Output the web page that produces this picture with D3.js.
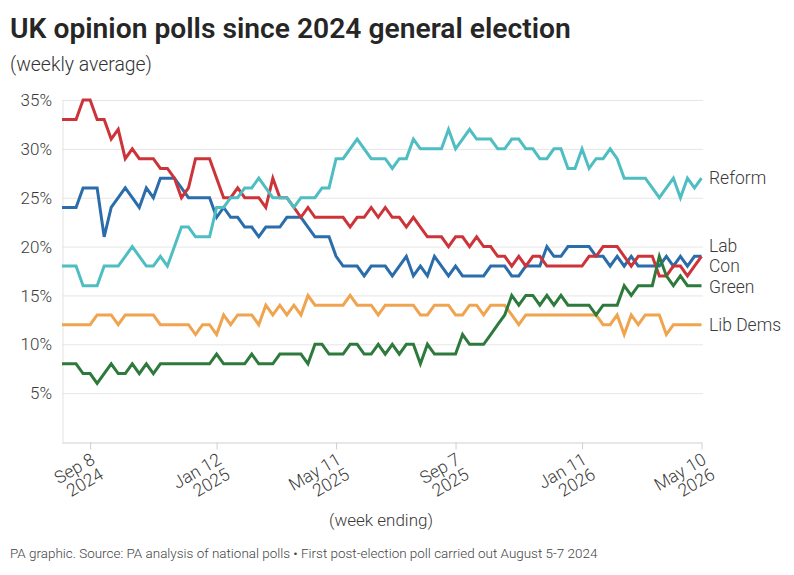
<!DOCTYPE html>
<html><head><meta charset="utf-8">
<script src="https://cdn.jsdelivr.net/npm/d3@7"></script>
<style>body{margin:0;background:#fff} svg{display:block;font-family:Roboto,"Liberation Sans",sans-serif}</style>
</head><body><svg id="chart" width="794" height="575"></svg>
<script>
// ---------- data ----------
const firstWeek = "2024-08-11";
const lastWeek  = "2026-05-10";
const xTickDates  = ["2024-09-08","2025-01-12","2025-05-11","2025-09-07","2026-01-11","2026-05-10"];
const xTickLabels = [["Sep 8","2024"],["Jan 12","2025"],["May 11","2025"],["Sep 7","2025"],["Jan 11","2026"],["May 10","2026"]];
const yTicks = [5,10,15,20,25,30,35];
const partyNames = ["Lab","Con","Reform","Lib Dems","Green"];

const con = [33,33,33,35,35,33,33,31,32,29, 30,29,29,29,28,28,27,25,26,29,
  29,29,27,25,25,26,25,25,25,24, 27,25,25,24,23,24,23,23,23,23,
  23,22,23,23,24,23,24,23,23,22, 23,22,21,21,21,20,21,21,20,21,
  20,20,19,19,18,19,18,19,19,18, 18,18,18,18,18,19,19,20,20,20,
  19,18,19,19,19,17,17,18,18,17, 18,19];
const lab = [24,24,24,26,26,26,21,24,25,26, 25,24,26,25,27,27,27,26,25,25,
  25,25,23,24,23,23,22,22,21,22, 22,22,23,23,23,22,21,21,21,19,
  18,18,18,17,18,18,18,17,18,19, 17,18,17,19,18,17,18,17,17,17,
  17,18,18,18,17,17,18,18,18,20, 19,19,20,20,20,20,19,19,18,19,
  18,19,18,18,18,18,19,18,19,18, 19,19];
const reform = [18,18,18,16,16,16,18,18,18,19, 20,19,18,18,19,18,20,22,22,21,
  21,21,24,24,25,25,26,26,27,26, 25,25,25,24,25,25,25,26,26,29,
  29,30,31,30,29,29,29,28,29,29, 31,30,30,30,30,32,30,31,32,31,
  31,31,30,30,31,31,30,30,29,29, 30,30,28,28,30,28,29,29,30,29,
  27,27,27,27,26,25,26,27,25,27, 26,27];
const green = [8,8,8,7,7,6,7,8,7,7, 8,7,8,7,8,8,8,8,8,8,
  8,8,9,8,8,8,8,9,8,8, 8,9,9,9,9,8,10,10,9,9,
  9,10,10,9,9,10,9,10,9,10, 10,8,10,9,9,9,9,11,10,10,
  10,11,12,13,15,14,15,15,14,15, 14,15,14,14,14,14,13,14,14,14,
  16,15,16,16,16,19,17,16,17,16, 16,16];
const libDems = [12,12,12,12,12,13,13,13,12,13, 13,13,13,13,12,12,12,12,12,11,
  12,12,11,13,12,13,13,13,12,14, 13,14,13,14,13,15,14,14,14,14,
  14,15,14,14,14,13,14,14,14,14, 14,13,13,14,14,14,13,13,14,14,
  13,14,14,14,13,12,13,13,13,13, 13,13,13,13,13,13,13,12,12,13,
  11,13,12,13,13,13,11,12,12,12, 12,12];

const partyValues = [lab, con, reform, libDems, green];
const partyColors = ["#2b6dab","#cc343a","#4fbec2","#f0a44f","#2e7a3d"];

// ---------- chart ----------
const svg = d3.select("#chart");
const parse = d3.utcParse("%Y-%m-%d");
const weeks = d3.utcSunday.range(parse(firstWeek), d3.utcDay.offset(parse(lastWeek), 1));

const x = d3.scaleUtc().domain([parse(firstWeek), parse(lastWeek)]).range([62, 701.5]);
const y = d3.scaleLinear().domain([0, 35]).range([442, 100]);

function fit(sel, target) {
  const n = sel.node();
  const fs = parseFloat(sel.attr("font-size"));
  const len = n.getComputedTextLength();
  sel.attr("font-size", (fs * target / len).toFixed(2));
}

// title
const title = svg.append("text").attr("x", 10).attr("y", 38)
  .attr("font-size", 26).attr("font-weight", 600).attr("fill", "#262626")
  .text("UK opinion polls since 2024 general election");
fit(title, 561);
const sub = svg.append("text").attr("x", 10).attr("y", 71)
  .attr("font-size", 18).attr("font-weight", 300).attr("fill", "#333")
  .text("(weekly average)");
fit(sub, 142);

// grid
svg.append("g").selectAll("line").data(yTicks).join("line")
  .attr("x1", 62).attr("x2", 703)
  .attr("y1", d => y(d) + 0.5).attr("y2", d => y(d) + 0.5)
  .attr("stroke", "#e6e6e6").attr("stroke-width", 1);

// y axis line (left)
const yAxis = svg.append("g").attr("transform", "translate(62.5,0)")
  .call(d3.axisLeft(y).tickValues([]).tickSizeOuter(0));
yAxis.select(".domain").attr("stroke", "#e3e3e3");

// y labels
svg.append("g").selectAll("text").data(yTicks).join("text")
  .attr("x", 52).attr("y", d => y(d)).attr("dy", "0.36em")
  .attr("text-anchor", "end").attr("font-size", 17).attr("font-weight", 300).attr("fill", "#3a3a3a")
  .text(d => d + "%");

// x axis
const xAxis = svg.append("g").attr("transform", "translate(0,442.5)")
  .call(d3.axisBottom(x).tickValues(xTickDates.map(parse)).tickSize(7).tickSizeOuter(0).tickFormat(""));
xAxis.select(".domain").attr("stroke", "#cfcfcf");
xAxis.selectAll(".tick line").attr("stroke", "#cfcfcf");

const xl = svg.append("g").selectAll("text").data(xTickDates).join("text")
  .attr("transform", d => `translate(${x(parse(d)) + 6},463) rotate(-30)`)
  .attr("text-anchor", "end").attr("font-size", 17.5).attr("font-weight", 300).attr("fill", "#3a3a3a");
xl.each(function(d, i) {
  const t = d3.select(this);
  t.append("tspan").attr("x", 0).attr("dy", 0).text(xTickLabels[i][0]);
  t.append("tspan").attr("x", 0).attr("dy", "0.98em").text(xTickLabels[i][1]);
});

svg.append("text").attr("x", 381).attr("y", 526).attr("text-anchor", "middle")
  .attr("font-size", 17).attr("font-weight", 300).attr("fill", "#3a3a3a").text("(week ending)");

// lines
const line = d3.line().x((d, i) => x(weeks[i])).y(d => y(d));
svg.append("g").selectAll("path").data(partyValues).join("path")
  .attr("d", d => line(d)).attr("fill", "none")
  .attr("stroke", (d, i) => partyColors[i]).attr("stroke-width", 3)
  .attr("stroke-linejoin", "miter");

// end labels with dodge
const labs = partyNames.map((n, i) => ({ name: n, y: y(partyValues[i][partyValues[i].length - 1]) }));
labs.sort((a, b) => a.y - b.y);
const gap = 20.5;
let clusters = labs.map(l => ({ items: [l], y: l.y }));
let changed = true;
while (changed) {
  changed = false;
  for (let k = 0; k < clusters.length - 1; k++) {
    const a = clusters[k], b = clusters[k + 1];
    const aBottom = a.y + (a.items.length - 1) * gap / 2;
    const bTop = b.y - (b.items.length - 1) * gap / 2;
    if (bTop - aBottom < gap) {
      const items = a.items.concat(b.items);
      const mean = d3.mean(items, d => d.y);
      clusters.splice(k, 2, { items, y: mean });
      changed = true; break;
    }
  }
}
clusters.forEach(c => c.items.forEach((it, j) => { it.ly = c.y + (j - (c.items.length - 1) / 2) * gap; }));
svg.append("g").selectAll("text").data(labs).join("text")
  .attr("x", 709).attr("y", d => d.ly).attr("dy", "0.36em")
  .attr("font-size", 17.5).attr("font-weight", 300).attr("fill", "#3a3a3a").text(d => d.name);

// footer
const foot = svg.append("text").attr("x", 10).attr("y", 558)
  .attr("font-size", 13).attr("font-weight", 300).attr("fill", "#444")
  .text("PA graphic. Source: PA analysis of national polls \u2022 First post-election poll carried out August 5-7 2024");
fit(foot, 588);
</script></body></html>
